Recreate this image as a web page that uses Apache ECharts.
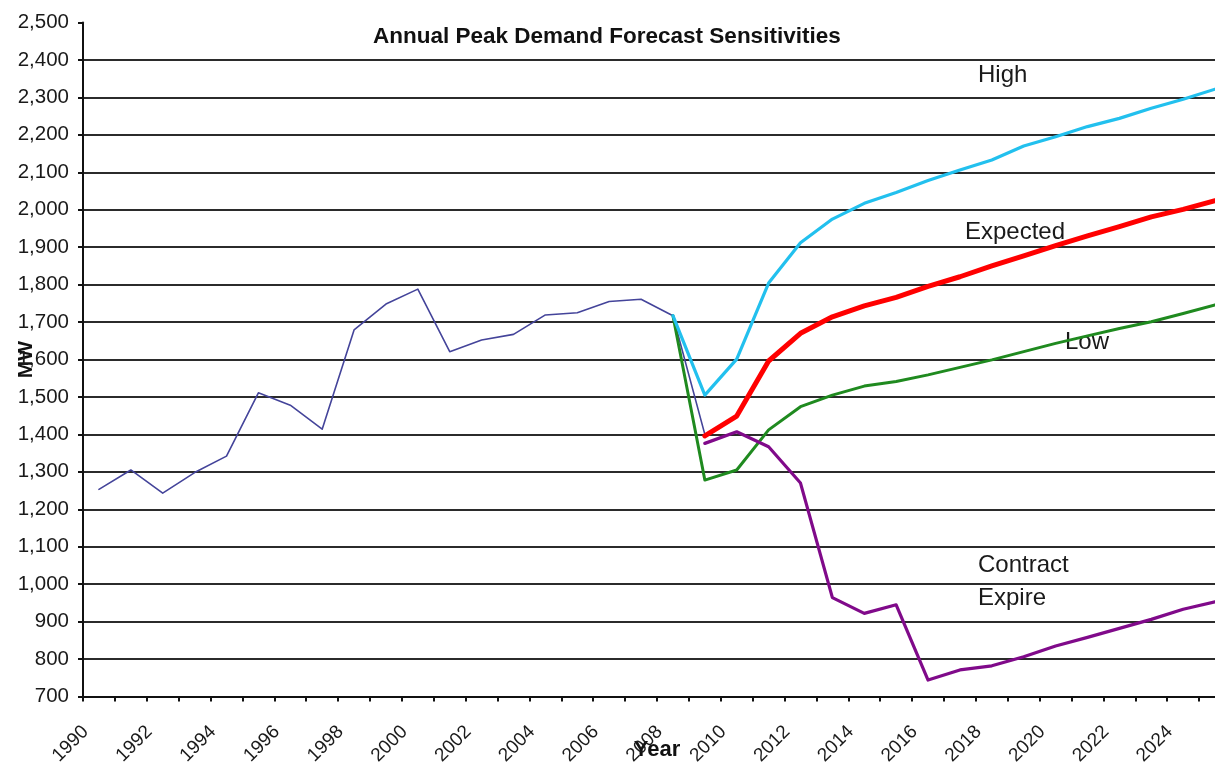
<!DOCTYPE html>
<html>
<head>
<meta charset="utf-8">
<script src="https://cdn.jsdelivr.net/npm/echarts@6/dist/echarts.min.js"></script>
<style>
  html, body { margin: 0; padding: 0; background: #ffffff; }
  #chart { width: 1215px; height: 768px; }
</style>
</head>
<body>
<div id="chart"></div>
<script>
// Years on the category axis
const years = ['1990','1991','1992','1993','1994','1995','1996','1997','1998','1999',
               '2000','2001','2002','2003','2004','2005','2006','2007','2008','2009',
               '2010','2011','2012','2013','2014','2015','2016','2017','2018','2019',
               '2020','2021','2022','2023','2024','2025'];

// Recorded annual peak demand (MW), 1990-2009
const historical = [1253, 1305, 1243, 1298, 1342, 1511, 1478, 1414, 1679, 1748,
                    1788, 1621, 1652, 1667, 1719, 1725, 1755, 1761, 1717, 1400];

// Forecast sensitivities (MW)
const highStart = '2008';
const highCase = [1717, 1505, 1601, 1804, 1912, 1975, 2017, 2046, 2078, 2106,
                  2133, 2170, 2195, 2222, 2244, 2271, 2295, 2322];

const expectedStart = '2009';
const expectedCase = [1396, 1449, 1596, 1670, 1714, 1743, 1766, 1795, 1821, 1850,
                      1877, 1904, 1930, 1955, 1981, 2001, 2024];

const lowStart = '2008';
const lowCase = [1717, 1278, 1305, 1412, 1474, 1505, 1529, 1541, 1559, 1579,
                 1599, 1621, 1643, 1663, 1683, 1701, 1723, 1746];

const contractStart = '2009';
const contractExpire = [1376, 1407, 1367, 1270, 964, 922, 945, 744, 771, 782,
                        806, 835, 858, 882, 906, 933, 953];

// Value axis range and step
const yRange = [700, 2500];
const yStep = 100;

// Place a run of values on the full year axis, leaving gaps elsewhere
function alignToYears(startYear, values) {
  const offset = years.indexOf(startYear);
  return years.map((y, i) => {
    const k = i - offset;
    return (k >= 0 && k < values.length) ? values[k] : null;
  });
}

const FONT = '"Liberation Sans", Arial, Helvetica, sans-serif';
const chart = echarts.init(document.getElementById('chart'), null, { renderer: 'canvas' });

function lineSeries(name, data, color, width, z) {
  return {
    name: name,
    type: 'line',
    data: data,
    showSymbol: false,
    symbol: 'none',
    connectNulls: false,
    lineStyle: { color: color, width: width, cap: 'round', join: 'round' },
    itemStyle: { color: color },
    z: z,
    animation: false
  };
}

const annotationStyle = { fill: '#1a1a1a', font: '24px ' + FONT, verticalAlign: 'top', align: 'left' };

chart.setOption({
  backgroundColor: '#ffffff',
  animation: false,
  textStyle: { fontFamily: FONT },
  title: {
    text: 'Annual Peak Demand Forecast Sensitivities',
    left: 373,
    top: 25,
    padding: 0,
    textStyle: { fontFamily: FONT, fontSize: 22.5, fontWeight: 'bold', color: '#111111' }
  },
  grid: { left: 83, top: 22.5, width: 1148, height: 674, containLabel: false, outerBoundsMode: 'none' },
  xAxis: {
    type: 'category',
    data: years,
    boundaryGap: true,
    name: 'Year',
    nameLocation: 'middle',
    nameGap: 42,
    nameMoveOverlap: false,
    nameTextStyle: { fontFamily: FONT, fontSize: 22, fontWeight: 'bold', color: '#111111' },
    axisLine: { show: true, lineStyle: { color: '#111111', width: 2 } },
    axisTick: { show: true, interval: 0, length: 5, lineStyle: { color: '#111111', width: 2 } },
    axisLabel: {
      interval: 1,
      rotate: 45,
      margin: 19,
      padding: [0, 19, 0, 0],
      fontFamily: FONT,
      fontSize: 19,
      color: '#1a1a1a'
    },
    splitLine: { show: false }
  },
  yAxis: {
    type: 'value',
    min: yRange[0],
    max: yRange[1],
    interval: yStep,
    name: 'MW',
    nameLocation: 'middle',
    nameGap: 46,
    nameRotate: 90,
    nameMoveOverlap: false,
    nameTextStyle: { fontFamily: FONT, fontSize: 21, fontWeight: 'bold', color: '#111111' },
    axisLine: { show: true, lineStyle: { color: '#111111', width: 2 } },
    axisTick: { show: true, length: 5, lineStyle: { color: '#111111', width: 2 } },
    axisLabel: {
      margin: 14,
      fontFamily: FONT,
      fontSize: 20.5,
      color: '#1a1a1a',
      formatter: v => v.toLocaleString('en-US')
    },
    splitLine: { show: true, showMaxLine: false, lineStyle: { color: '#2b2b2b', width: 2 } }
  },
  series: [
    lineSeries('Historical', historical, '#44449a', 1.6, 2),
    lineSeries('Low', alignToYears(lowStart, lowCase), '#1f8a1f', 3, 3),
    lineSeries('High', alignToYears(highStart, highCase), '#22c0ee', 3.2, 4),
    lineSeries('Contract Expire', alignToYears(contractStart, contractExpire), '#800a8a', 3.2, 5),
    lineSeries('Expected', alignToYears(expectedStart, expectedCase), '#ff0000', 5, 6)
  ],
  graphic: [
    { type: 'text', left: 978, top: 63, style: Object.assign({ text: 'High' }, annotationStyle) },
    { type: 'text', left: 965, top: 220, style: Object.assign({ text: 'Expected' }, annotationStyle) },
    { type: 'text', left: 1065, top: 330, style: Object.assign({ text: 'Low' }, annotationStyle) },
    { type: 'text', left: 978, top: 553, style: Object.assign({ text: 'Contract' }, annotationStyle) },
    { type: 'text', left: 978, top: 586, style: Object.assign({ text: 'Expire' }, annotationStyle) }
  ]
});
</script>
</body>
</html>
